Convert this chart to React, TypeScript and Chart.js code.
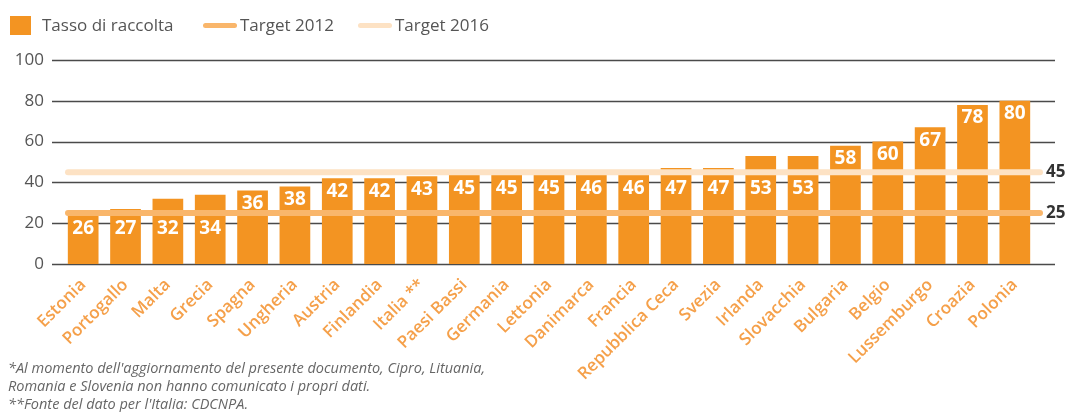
import React, { useEffect, useRef } from "react";
import { Chart, registerables } from "chart.js";

Chart.register(...registerables);

const categories = [
  "Estonia", "Portogallo", "Malta", "Grecia", "Spagna", "Ungheria", "Austria",
  "Finlandia", "Italia **", "Paesi Bassi", "Germania", "Lettonia", "Danimarca",
  "Francia", "Repubblica Ceca", "Svezia", "Irlanda", "Slovacchia", "Bulgaria",
  "Belgio", "Lussemburgo", "Croazia", "Polonia",
];
const collectionRate = [26, 27, 32, 34, 36, 38, 42, 42, 43, 45, 45, 45, 46, 46, 47, 47, 53, 53, 58, 60, 67, 78, 80];
const seriesLabel = "Tasso di raccolta";
const targetLabels = ["Target 2012", "Target 2016"];
const targetValues = [25, 45];
const footnotes = [
  "*Al momento dell'aggiornamento del presente documento, Cipro, Lituania,",
  "Romania e Slovenia non hanno comunicato i propri dati.",
  "**Fonte del dato per l'Italia: CDCNPA.",
];

const BAR = "#F39422";
const TARGET_COLORS = ["#F9B66B", "#FDE2C4"];
const FONT = "'Open Sans', 'Noto Sans', sans-serif";

const overlayPlugin = {
  id: "overlay",
  beforeDatasetsDraw(chart: any) {
    const { ctx, chartArea, scales } = chart;
    const y = scales.y;
    ctx.save();
    ctx.strokeStyle = "#4a4a4a";
    ctx.lineWidth = 1.4;
    y.ticks.forEach((t: any) => {
      const py = Math.round(y.getPixelForValue(t.value)) + 0.5;
      ctx.beginPath();
      ctx.moveTo(chartArea.left - 10, py);
      ctx.lineTo(chartArea.right + 19, py);
      ctx.stroke();
    });
    ctx.restore();
  },
  afterDatasetsDraw(chart: any) {
    const { ctx, chartArea, scales } = chart;
    const y = scales.y;
    ctx.save();
    const linePix: number[] = [];
    targetValues.forEach((v, i) => {
      const py = y.getPixelForValue(v);
      linePix.push(py);
      ctx.strokeStyle = TARGET_COLORS[i];
      ctx.lineWidth = 6;
      ctx.lineCap = "round";
      ctx.beginPath();
      ctx.moveTo(chartArea.left + 6, py);
      ctx.lineTo(chartArea.right + 4, py);
      ctx.stroke();
      ctx.fillStyle = "#333";
      ctx.font = `bold 17px ${FONT}`;
      ctx.textAlign = "left";
      ctx.textBaseline = "middle";
      ctx.fillText(String(v), chartArea.right + 10, py);
    });
    const meta = chart.getDatasetMeta(0);
    ctx.fillStyle = "#fff";
    ctx.font = `bold 19px ${FONT}`;
    ctx.textAlign = "center";
    ctx.textBaseline = "middle";
    meta.data.forEach((bar: any, i: number) => {
      let cy = bar.y + 12;
      linePix.forEach((ly) => {
        if (cy > ly - 10 && cy < ly + 15) cy = ly + 15;
      });
      ctx.fillText(String(collectionRate[i]), bar.x, cy + 1);
    });
    ctx.restore();
  },
};

export default function App() {
  const ref = useRef<HTMLCanvasElement | null>(null);
  useEffect(() => {
    if (!ref.current) return;
    const chart = new Chart(ref.current, {
      type: "bar",
      data: {
        labels: categories,
        datasets: [
          {
            label: seriesLabel,
            data: collectionRate,
            backgroundColor: BAR,
            borderWidth: 0,
            categoryPercentage: 1,
            barPercentage: 0.725,
          },
        ],
      },
      options: {
        animation: false,
        responsive: true,
        maintainAspectRatio: false,
        layout: { padding: { left: 0, top: 60, right: 33, bottom: 0 } },
        plugins: { legend: { display: false }, tooltip: { enabled: false } },
        scales: {
          x: {
            grid: { display: false, drawTicks: false },
            border: { display: false },
            afterFit: (s: any) => { s.height = 148; },
            ticks: {
              autoSkip: false,
              maxRotation: 45,
              minRotation: 45,
              padding: 11,
              color: "#F5A04A",
              font: { family: FONT, size: 17, weight: "600" },
            },
          },
          y: {
            min: 0,
            max: 100,
            grid: { display: false, drawTicks: false },
            border: { display: false },
            afterFit: (s: any) => { s.width = 62; },
            ticks: {
              stepSize: 20,
              padding: 18,
              color: "#555",
              font: { family: FONT, size: 17 },
            },
          },
        },
      },
      plugins: [overlayPlugin],
    } as any);
    return () => chart.destroy();
  }, []);

  const textStyle: React.CSSProperties = {
    position: "absolute", top: 0, height: 22, lineHeight: "22px",
    fontFamily: FONT, fontSize: 17, color: "#555", whiteSpace: "nowrap",
  };
  const lineSym = (c: string, left: number): React.CSSProperties => ({
    position: "absolute", left, top: 9, width: 34, height: 5, borderRadius: 3, background: c,
  });

  return (
    <div style={{ position: "absolute", left: 0, top: 0, width: 1069, height: 412, background: "#fff", overflow: "hidden" }}>
      <canvas ref={ref} />
      <div style={{ position: "absolute", left: 0, top: 14, width: 600, height: 22 }}>
        <div style={{ position: "absolute", left: 10, top: 2, width: 21, height: 19, background: BAR }} />
        <span style={{ ...textStyle, left: 42 }}>{seriesLabel}</span>
        <div style={lineSym(TARGET_COLORS[0], 203)} />
        <span style={{ ...textStyle, left: 240 }}>{targetLabels[0]}</span>
        <div style={lineSym(TARGET_COLORS[1], 358)} />
        <span style={{ ...textStyle, left: 395 }}>{targetLabels[1]}</span>
      </div>
      <div style={{ position: "absolute", left: 8, top: 359, fontFamily: FONT, fontStyle: "italic", fontSize: 14.5, lineHeight: "18px", color: "#666" }}>
        {footnotes.map((f, i) => (
          <div key={i} style={{ whiteSpace: "nowrap" }}>{f}</div>
        ))}
      </div>
    </div>
  );
}
